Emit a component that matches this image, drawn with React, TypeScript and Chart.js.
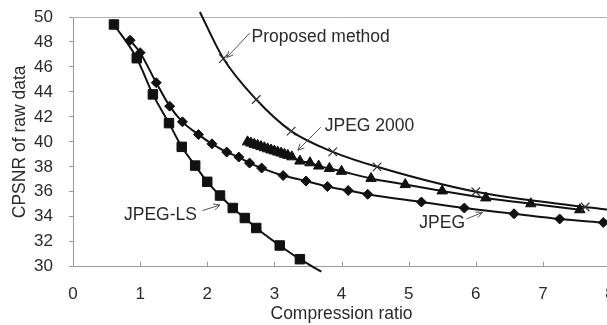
import React, { useEffect, useRef } from "react";
import { Chart, registerables } from "chart.js";
Chart.register(...registerables);

// ---- axis ticks ----
const xTicks = [0, 1, 2, 3, 4, 5, 6, 7, 8];
const yTicks = [30, 32, 34, 36, 38, 40, 42, 44, 46, 48, 50];

// ---- Proposed method ----
const proposedX = [1.89, 2.24, 2.73, 3.25, 3.87, 4.53, 6.0, 7.63, 8.0];
const proposedY = [50.4, 46.67, 43.39, 40.86, 39.2, 38.0, 36.0, 34.78, 34.55];
const proposedMark = [0, 1, 1, 1, 1, 1, 1, 1, 0];

// ---- JPEG 2000 ----
const j2kX = [2.6, 2.65, 2.7, 2.75, 2.8, 2.85, 2.9, 2.95, 3.0, 3.05, 3.1, 3.15, 3.2, 3.26, 3.38, 3.53, 3.66, 3.82, 4.0, 4.44, 4.95, 5.5, 6.15, 6.82, 7.55];
const j2kY = [40.0, 39.9, 39.8, 39.72, 39.62, 39.53, 39.44, 39.35, 39.27, 39.18, 39.1, 39.0, 38.92, 38.8, 38.46, 38.32, 38.06, 37.87, 37.64, 37.07, 36.58, 36.07, 35.51, 35.04, 34.56];

// ---- JPEG ----
const jpegX = [0.85, 1.0, 1.24, 1.44, 1.63, 1.87, 2.07, 2.29, 2.47, 2.63, 2.81, 3.13, 3.47, 3.79, 4.1, 4.39, 5.19, 5.83, 6.57, 7.25, 7.9];
const jpegY = [48.14, 47.14, 44.74, 42.86, 41.6, 40.58, 39.84, 39.18, 38.78, 38.3, 37.9, 37.3, 36.86, 36.42, 36.1, 35.8, 35.18, 34.7, 34.24, 33.82, 33.54];

// ---- JPEG-LS ----
const lsX = [0.61, 0.95, 1.19, 1.43, 1.62, 1.82, 2.0, 2.19, 2.38, 2.56, 2.73, 3.08, 3.38, 3.7];
const lsY = [49.4, 46.7, 43.8, 41.5, 39.6, 38.1, 36.8, 35.7, 34.7, 33.9, 33.1, 31.7, 30.6, 29.6];
const lsMark = [1, 1, 1, 1, 1, 1, 1, 1, 1, 1, 1, 1, 1, 0];

// ---- annotation labels (text anchor, arrow from -> to, in data units) ----
const labelTexts = ["Proposed method", "JPEG 2000", "JPEG-LS", "JPEG"];
const labelAt = [[2.66, 48.38], [3.75, 41.25], [0.76, 34.1], [5.16, 33.5]];
const arrowFrom = [[2.63, 48.7], [3.69, 41.17], [1.93, 34.5], [5.86, 33.82]];
const arrowTo = [[2.29, 46.75], [3.35, 39.33], [2.19, 34.94], [6.1, 34.34]];

const FONT = '"Liberation Sans", Arial, sans-serif';
const TEXT = "#2a2a2a";

const pts = (xs: number[], ys: number[]) => xs.map((x, i) => ({ x, y: ys[i] }));

const overlay = {
  id: "overlay",
  beforeDatasetsDraw(chart: any) {
    const { ctx, chartArea } = chart;
    const x = chart.scales.x;
    ctx.save();
    ctx.lineWidth = 1;
    ctx.strokeStyle = "#b0b0b0";
    ctx.beginPath();
    ctx.moveTo(chartArea.left, Math.round(chartArea.top) + 0.5);
    ctx.lineTo(chartArea.right, Math.round(chartArea.top) + 0.5);
    ctx.stroke();
    ctx.strokeStyle = "#999";
    ctx.beginPath();
    for (const t of xTicks) {
      const px = Math.round(x.getPixelForValue(t)) + 0.5;
      ctx.moveTo(px, chartArea.bottom);
      ctx.lineTo(px, chartArea.bottom - 5);
    }
    ctx.stroke();
    ctx.restore();
  },
  afterDatasetsDraw(chart: any) {
    const { ctx } = chart;
    const x = chart.scales.x;
    const y = chart.scales.y;
    ctx.save();
    ctx.font = `17.5px ${FONT}`;
    ctx.fillStyle = TEXT;
    ctx.textBaseline = "middle";
    ctx.textAlign = "left";
    labelTexts.forEach((t, i) => {
      ctx.fillText(t, x.getPixelForValue(labelAt[i][0]), y.getPixelForValue(labelAt[i][1]));
      const x1 = x.getPixelForValue(arrowFrom[i][0]);
      const y1 = y.getPixelForValue(arrowFrom[i][1]);
      const x2 = x.getPixelForValue(arrowTo[i][0]);
      const y2 = y.getPixelForValue(arrowTo[i][1]);
      const a = Math.atan2(y2 - y1, x2 - x1);
      ctx.strokeStyle = "#555";
      ctx.lineWidth = 1;
      ctx.beginPath();
      ctx.moveTo(x1, y1);
      ctx.lineTo(x2, y2);
      ctx.moveTo(x2 - 7 * Math.cos(a - 0.45), y2 - 7 * Math.sin(a - 0.45));
      ctx.lineTo(x2, y2);
      ctx.lineTo(x2 - 7 * Math.cos(a + 0.45), y2 - 7 * Math.sin(a + 0.45));
      ctx.stroke();
    });
    ctx.restore();
  },
};

export default function App() {
  const ref = useRef<HTMLCanvasElement>(null);
  useEffect(() => {
    if (!ref.current) return;
    const base = {
      showLine: true,
      borderColor: "#111",
      backgroundColor: "#111",
      pointBorderColor: "#111",
      pointBackgroundColor: "#111",
      borderWidth: 2,
      pointBorderWidth: 1,
      clip: false as any,
    };
    const chart = new Chart(ref.current, {
      type: "scatter",
      data: {
        datasets: [
          {
            ...base,
            label: "Proposed method",
            data: pts(proposedX, proposedY),
            cubicInterpolationMode: "monotone",
            pointStyle: "crossRot",
            pointRadius: proposedMark.map((m) => (m ? 6 : 0)),
            pointBorderColor: "#333",
            pointBorderWidth: 1.2,
          },
          {
            ...base,
            label: "JPEG",
            data: pts(jpegX, jpegY),
            cubicInterpolationMode: "monotone",
            pointStyle: "rectRot",
            pointRadius: 5,
          },
          {
            ...base,
            label: "JPEG 2000",
            data: pts(j2kX, j2kY),
            cubicInterpolationMode: "monotone",
            pointStyle: "triangle",
            pointRadius: 6,
          },
          {
            ...base,
            label: "JPEG-LS",
            data: pts(lsX, lsY),
            cubicInterpolationMode: "monotone",
            pointStyle: "rect",
            pointRadius: lsMark.map((m) => (m ? 6.7 : 0)),
          },
        ] as any,
      },
      options: {
        animation: false,
        responsive: false,
        maintainAspectRatio: false,
        layout: { padding: { left: 0, top: 17, right: 10, bottom: 0 } },
        plugins: { legend: { display: false }, tooltip: { enabled: false } },
        scales: {
          x: {
            type: "linear",
            min: 0,
            max: 8,
            afterFit: (s: any) => {
              s.height = 58.3;
              s.paddingLeft = 0;
              s.paddingRight = 0;
            },
            afterBuildTicks: (s: any) => {
              s.ticks = xTicks.map((v) => ({ value: v }));
            },
            grid: { display: true, drawOnChartArea: false, drawTicks: false },
            border: { display: true, color: "#999", width: 1 },
            ticks: { padding: 17, color: TEXT, font: { family: FONT, size: 17 } },
            title: {
              display: true,
              text: "Compression ratio",
              color: TEXT,
              font: { family: FONT, size: 17.5 },
              padding: { top: 0, bottom: 0 },
            },
          },
          y: {
            type: "linear",
            min: 30,
            max: 50,
            afterFit: (s: any) => {
              s.width = 73;
              s.paddingTop = 0;
              s.paddingBottom = 0;
            },
            afterBuildTicks: (s: any) => {
              s.ticks = yTicks.map((v) => ({ value: v }));
            },
            grid: { display: true, drawOnChartArea: false, drawTicks: true, tickLength: 4, color: "#999" },
            border: { display: true, color: "#999", width: 1 },
            ticks: { padding: 16, color: TEXT, font: { family: FONT, size: 17 } },
            title: {
              display: true,
              text: "CPSNR of raw data",
              color: TEXT,
              font: { family: FONT, size: 17.5 },
              padding: { top: 10, bottom: 0 },
            },
          },
        },
      },
      plugins: [overlay],
    });
    return () => chart.destroy();
  }, []);
  return (
    <div style={{ position: "absolute", left: 0, top: 0, width: 607, height: 325, overflow: "hidden", background: "#fff" }}>
      <canvas ref={ref} width={620} height={325} style={{ display: "block", width: 620, height: 325 }} />
    </div>
  );
}
